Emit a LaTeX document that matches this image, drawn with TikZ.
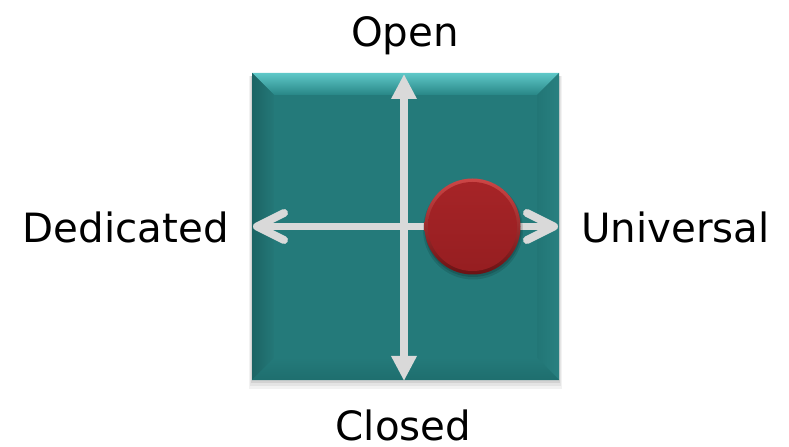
\documentclass[tikz,border=0pt]{standalone}
\usepackage{fontspec}
\setmainfont{DejaVu Sans}
\usetikzlibrary{arrows.meta,calc}
\definecolor{tealface}{RGB}{36,122,122}
\definecolor{tealtopA}{RGB}{95,200,200}
\definecolor{tealtopB}{RGB}{40,134,134}
\definecolor{tealleftA}{RGB}{28,100,100}
\definecolor{tealleftB}{RGB}{36,120,120}
\definecolor{tealrightA}{RGB}{40,128,128}
\definecolor{tealrightB}{RGB}{34,118,118}
\definecolor{tealbotA}{RGB}{36,122,122}
\definecolor{tealbotB}{RGB}{30,110,110}
\definecolor{arrowgray}{RGB}{217,217,217}
\definecolor{redface}{RGB}{166,36,39}
\definecolor{redfaceB}{RGB}{150,30,33}
\definecolor{redrimA}{RGB}{205,70,70}
\definecolor{redrimB}{RGB}{105,18,20}
\tikzset{
  lbl/.style={inner sep=0pt, font=\fontsize{40.5}{48}\selectfont, text=black},
  axisline/.style={draw=arrowgray, line width=7.5bp},
  chevron/.style={draw=arrowgray, line width=8bp, line cap=round, line join=round},
}
\begin{document}
\begin{tikzpicture}[x=1bp,y=-1bp]
\useasboundingbox (0,0) rectangle (789,447);
% shadow of the square
\fill[black,opacity=0.05] (249,76) rectangle (562,389);
\fill[black,opacity=0.06] (250,76) rectangle (561,386);
\fill[black,opacity=0.08] (251,76) rectangle (560,383);
% bevelled square
\coordinate (A) at (252,73);
\coordinate (B) at (559,73);
\coordinate (C) at (559,380);
\coordinate (D) at (252,380);
\coordinate (a) at (274,95);
\coordinate (b) at (537,95);
\coordinate (c) at (537,358);
\coordinate (d) at (274,358);
\fill[tealface] (A) rectangle (C);
\shade[top color=tealtopA, bottom color=tealtopB] (A) -- (B) -- (b) -- (a) -- cycle;
\shade[left color=tealleftA, right color=tealleftB] (A) -- (a) -- (d) -- (D) -- cycle;
\shade[left color=tealrightB, right color=tealrightA] (B) -- (C) -- (c) -- (b) -- cycle;
\shade[top color=tealbotA, bottom color=tealbotB] (D) -- (d) -- (c) -- (C) -- cycle;
\fill[tealface] (a) rectangle (c);
% horizontal axis
\coordinate (hl) at (257,226.5);
\coordinate (hr) at (554,226.5);
\coordinate (hlu) at (284,213);
\coordinate (hld) at (284,240);
\coordinate (hru) at (527,213);
\coordinate (hrd) at (527,240);
\draw[axisline] (hl) -- (hr);
\draw[chevron] (hlu) -- (hl) -- (hld);
\draw[chevron] (hru) -- (hr) -- (hrd);
% vertical axis
\coordinate (vt) at (404,74);
\coordinate (vb) at (404,381);
\draw[axisline, {Triangle[length=25bp,width=24bp]}-{Triangle[length=25bp,width=24bp]}] (vt) -- (vb);
% red button
\coordinate (bc) at (472.5,226.5);
\fill[black,opacity=0.12] ($(bc)+(0.5,3)$) circle[radius=50];
\fill[black,opacity=0.15] ($(bc)+(0.5,2)$) circle[radius=48.5];
\shade[top color=redrimA, bottom color=redrimB] (bc) circle[radius=48];
\shade[top color=redface, bottom color=redfaceB] (bc) circle[radius=44.5];
% labels
\node[lbl, anchor=base] (open) at (405,47) {Open};
\node[lbl, anchor=base] (closed) at (403.5,440) {Closed};
\node[lbl, anchor=base east] (ded) at (229,243) {Dedicated};
\node[lbl, anchor=base west] (uni) at (581,243) {Universal};
\end{tikzpicture}
\end{document}
